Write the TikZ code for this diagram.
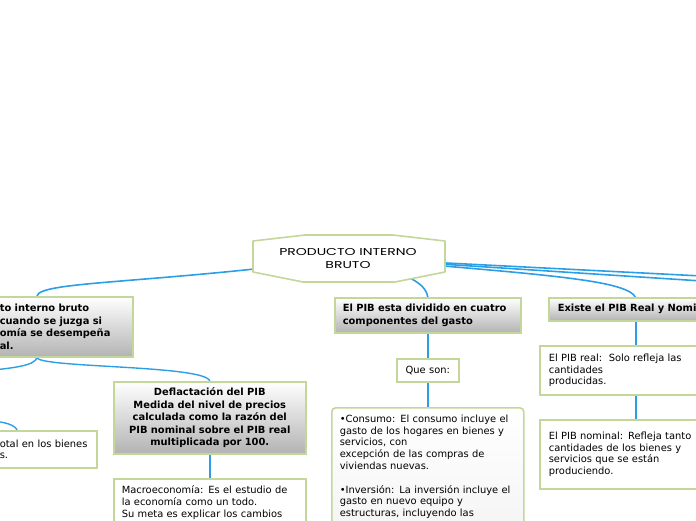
\documentclass[tikz,border=0pt]{standalone}
\usepackage{fontspec}
\setmainfont{DejaVu Sans}
\newfontfamily\titlefont[FakeStretch=1.4]{Poppins}
\usetikzlibrary{calc,shadows}
\definecolor{bgreen}{HTML}{C4D79B}
\definecolor{cblue}{HTML}{2B9FE6}
\definecolor{gbot}{HTML}{B3B3B3}
\pgfdeclarelayer{bg}
\pgfsetlayers{bg,main}
\begin{document}
\begin{tikzpicture}[x=1pt,y=-1pt,
  box/.style={draw=bgreen, line width=1.6pt, anchor=north west, inner ysep=2pt,
    font=\fontsize{9.9}{11.8}\selectfont, align=left},
  boldbox/.style={box, top color=white, bottom color=gbot,
    font=\fontsize{9.9}{12.5}\selectfont\bfseries},
  plain/.style={box, fill=white},
  conn/.style={draw=cblue, line width=1.4pt},
  rootconn/.style={draw=cblue, line width=1.6pt},
  hexa/.style={draw=bgreen, line width=1.6pt, fill=white, line join=round},
]
\useasboundingbox (0,0) rectangle (696,520);

% nodes
\node[boldbox, inner xsep=9pt, minimum width=142pt, text width=124pt, minimum height=60pt]
  (n1) at (-10,296) {to interno bruto\\cuando se juzga si\\omía se desempeña\\al.};
\node[plain, inner xsep=5pt, minimum width=102pt, text width=92pt, minimum height=37pt]
  (n2) at (-6,430) {otal en los bienes\\s.};
\node[boldbox, align=center, inner xsep=5pt, minimum width=192pt, text width=182pt, minimum height=72pt]
  (defl) at (113,381) {Deflactación del PIB\\Medida del nivel de precios\\calculada como la razón del\\PIB nominal sobre el PIB real\\multiplicada por 100.};
\node[plain, inner xsep=8pt, minimum width=192pt, text width=176pt, inner ysep=7pt, text depth=60pt]
  (macro) at (113,478) {Macroeconomía: Es el estudio de\\la economía como un todo.\\Su meta es explicar los cambios};
\node[boldbox, inner xsep=8pt, minimum width=186pt, text width=170pt, minimum height=35pt]
  (div) at (334,297) {El PIB esta dividido en cuatro\\componentes del gasto};
\node[plain, inner xsep=0pt, minimum width=62pt, text width=62pt, align=center, minimum height=23pt]
  (que) at (396,358) {Que son:};
\node[box, rounded corners=4pt, top color=white, bottom color=black!6, inner xsep=8pt,
  minimum width=192pt, text width=176pt, inner ysep=7pt, text depth=160pt]
  (cons) at (331,407) {•Consumo: El consumo incluye el\\gasto de los hogares en bienes y\\servicios, con\\excepción de las compras de\\viviendas nuevas.\\[11.8pt]•Inversión: La inversión incluye el\\gasto en nuevo equipo y\\estructuras, incluyendo las};
\node[boldbox, inner xsep=9pt, minimum width=212pt, text width=194pt, minimum height=23pt]
  (ex) at (548,297) {Existe el PIB Real y Nominal};
\node[plain, inner xsep=9pt, minimum width=221pt, text width=203pt, minimum height=49pt]
  (real) at (539,345) {El PIB real:\ \ Solo refleja las\\cantidades\\producidas.};
\node[plain, inner xsep=9pt, minimum width=221pt, text width=203pt, minimum height=69pt]
  (nom) at (539,419) {El PIB nominal: Refleja tanto\\cantidades de los bienes y\\servicios que se están\\produciendo.};

% root
\draw[hexa] (253,241) -- (305,235) -- (393,235) -- (445,241) -- (445,272) -- (395,282) -- (303,282) -- (253,272) -- cycle;
\node[font=\titlefont\fontsize{10}{13}\selectfont, align=center, inner sep=0pt]
  (root) at (348,258) {PRODUCTO INTERNO\\BRUTO};

% attachment points
\coordinate (n1t) at ($(n1.north west)+(47,0)$);
\coordinate (n1b) at ($(n1.south west)+(47,0)$);
\coordinate (ext) at ($(ex.south west)+(88,-23)$);
\coordinate (exb) at ($(ex.south west)+(88,0)$);
\coordinate (realt) at ($(real.north west)+(97,0)$);
\coordinate (realb) at ($(real.south west)+(97,0)$);
\coordinate (nomt) at ($(nom.north west)+(97,0)$);
\coordinate (offR1) at (702,276);
\coordinate (offR2) at (702,281);
\coordinate (offL1) at (-6,370);
\coordinate (offL2) at (-8,421);
\coordinate (n2t) at ($(n2.north west)+(23,0)$);

\begin{pgfonlayer}{bg}
\draw[rootconn] (root.center) .. controls (150,284) and (40,281) .. (n1t);
\draw[rootconn] (root.center) -- (offR1);
\draw[rootconn] (root.center) -- (offR2);
\draw[rootconn] (root.center) .. controls (550,275) and (630,280) .. (ext);
\draw[rootconn] (root.center) .. controls (400,272) and (425,280) .. (div.north);
\draw[conn] (n1b) .. controls (40,368) and (205,365) .. (defl.north);
\draw[conn] (n1b) .. controls (35,366) and (10,368) .. (offL1);
\draw[conn] (offL2) .. controls (5,422) and (15,425) .. (n2t);
\draw[conn] (defl.south) -- (macro.north);
\draw[conn] (div.south) -- (que.north);
\draw[conn] (que.south) -- (cons.north);
\draw[conn] (exb) -- (realt);
\draw[conn] (realb) -- (nomt);
\end{pgfonlayer}
\end{tikzpicture}
\end{document}
